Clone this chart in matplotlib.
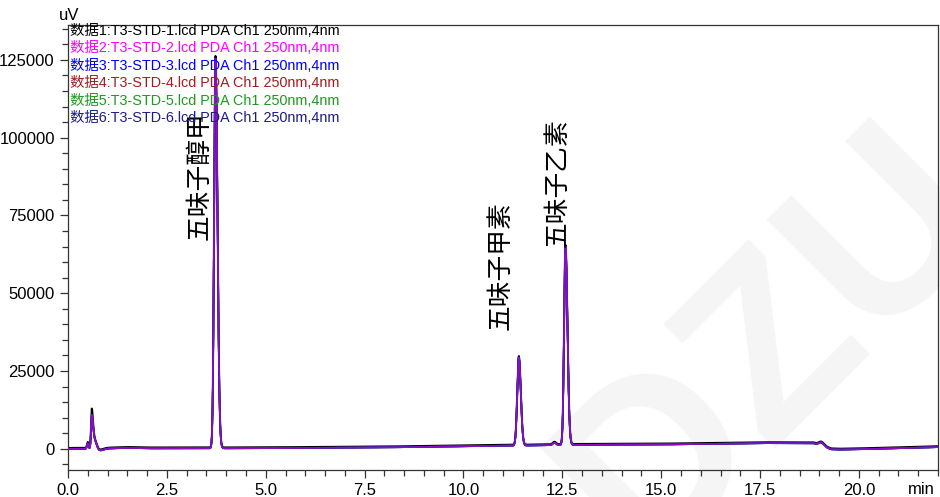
import numpy as np
import matplotlib
matplotlib.use("Agg")
import matplotlib.pyplot as plt
from matplotlib.ticker import MultipleLocator, FormatStrFormatter

# ---------------- data ----------------
series_labels = [
    "数据1:T3-STD-1.lcd PDA Ch1 250nm,4nm",
    "数据2:T3-STD-2.lcd PDA Ch1 250nm,4nm",
    "数据3:T3-STD-3.lcd PDA Ch1 250nm,4nm",
    "数据4:T3-STD-4.lcd PDA Ch1 250nm,4nm",
    "数据5:T3-STD-5.lcd PDA Ch1 250nm,4nm",
    "数据6:T3-STD-6.lcd PDA Ch1 250nm,4nm",
]
series_colors = ["#000000", "#ff00ff", "#0000ff", "#a01e1e", "#1e9a1e", "#1c1c88"]
series_offset = [300, 0, 0, 0, 0, 0]

# baseline (min, uV)
base_t = [0.0, 0.45, 1.0, 1.5, 2.0, 3.5, 5.0, 8.0, 10.4, 13.0, 15.0, 17.5, 18.85, 19.3, 19.5, 20.0, 22.0]
base_v = [0, 0, 100, 300, 150, 150, 200, 450, 870, 1290, 1380, 1830, 1800, -150, -250, -150, 550]

# peaks: retention time (min), height above baseline (uV), left/right widths (min)
peak_t = [0.50, 0.60, 0.66, 0.78, 3.73, 11.40, 12.30, 12.58, 19.05]
peak_h_black = [1900, 12200, 3000, -700, 125800, 28500, 800, 64000, 1100]
peak_h_other = [1700, 10400, 3000, -700, 125200, 28300, 800, 63800, 1100]
peak_wl = [0.02, 0.018, 0.03, 0.05, 0.035, 0.04, 0.04, 0.035, 0.06]
peak_wr = [0.02, 0.03, 0.06, 0.10, 0.05, 0.05, 0.04, 0.05, 0.07]

annot_text = ["五味子醇甲", "五味子甲素", "五味子乙素"]
annot_x = [3.33, 10.95, 12.39]
annot_y = [67000, 38200, 65000]

x_ticks = [0.0, 2.5, 5.0, 7.5, 10.0, 12.5, 15.0, 17.5, 20.0]
y_ticks = [0, 25000, 50000, 75000, 100000, 125000]

# ---------------- build traces ----------------
t = np.linspace(0, 22, 8801)


def trace(heights, offset):
    y = np.interp(t, base_t, base_v).astype(float) + offset
    for rt, h, wl, wr in zip(peak_t, heights, peak_wl, peak_wr):
        w = np.where(t < rt, wl, wr)
        y += h * np.exp(-0.5 * ((t - rt) / w) ** 2)
    return y


traces = [trace(peak_h_black if i == 0 else peak_h_other, series_offset[i]) for i in range(6)]

# ---------------- figure ----------------
fig = plt.figure(figsize=(9.4, 4.97), dpi=100)
fig.patch.set_facecolor("white")

# faint watermark behind everything
fig.text(775 / 940, 1 - 345 / 497, "DZU", fontsize=175, color="#f5f5f5",
         rotation=45, ha="center", va="center", family="Liberation Sans",
         fontweight="bold", zorder=-5)

ax = fig.add_axes([68 / 940, 1 - 470 / 497, (938 - 68) / 940, (470 - 25) / 497])
ax.patch.set_alpha(0)

draw_order = [0, 3, 4, 2, 5, 1]
for z, i in enumerate(draw_order):
    alpha = 0.5 if i == 1 else 1.0
    lw = 1.4 if i == 0 else 1.2
    ax.plot(t, traces[i], color=series_colors[i], lw=lw, alpha=alpha, zorder=2 + z)

ax.set_xlim(0, 22)
ax.set_ylim(-6800, 136200)
ax.set_xticks(x_ticks)
ax.xaxis.set_major_formatter(FormatStrFormatter("%.1f"))
ax.xaxis.set_minor_locator(MultipleLocator(0.5))
ax.set_yticks(y_ticks)
ax.yaxis.set_major_formatter(FormatStrFormatter("%d"))
ax.yaxis.set_minor_locator(MultipleLocator(5000))

ax.tick_params(axis="both", which="major", direction="out", length=6, width=0.9,
               colors="#333333", labelcolor="black", labelsize=12)
ax.tick_params(axis="both", which="minor", direction="out", length=4, width=0.9, colors="#333333")
for lab in ax.get_xticklabels() + ax.get_yticklabels():
    lab.set_family("Liberation Sans")
for s in ax.spines.values():
    s.set_color("#333333")
    s.set_linewidth(0.9)

# annotations
for txt, xx, yy in zip(annot_text, annot_x, annot_y):
    ax.text(xx, yy, txt, rotation=90, ha="center", va="bottom", fontsize=18.5,
            family=["Noto Sans CJK SC"], color="black", zorder=10)

# legend texts
for i, (lab, col) in enumerate(zip(series_labels, series_colors)):
    fig.text(70 / 940, 1 - (31 + 17.4 * i) / 497, lab, color=col, fontsize=10.4,
             family=["Liberation Sans", "Noto Sans CJK SC"], ha="left", va="center", zorder=11)

fig.text(69 / 940, 1 - 15 / 497, "uV", fontsize=12, family="Liberation Sans",
         ha="center", va="center")
fig.text(921 / 940, 1 - 489 / 497, "min", fontsize=12, family="Liberation Sans",
         ha="center", va="center")

fig.savefig("out.png", dpi=100, facecolor="white")
